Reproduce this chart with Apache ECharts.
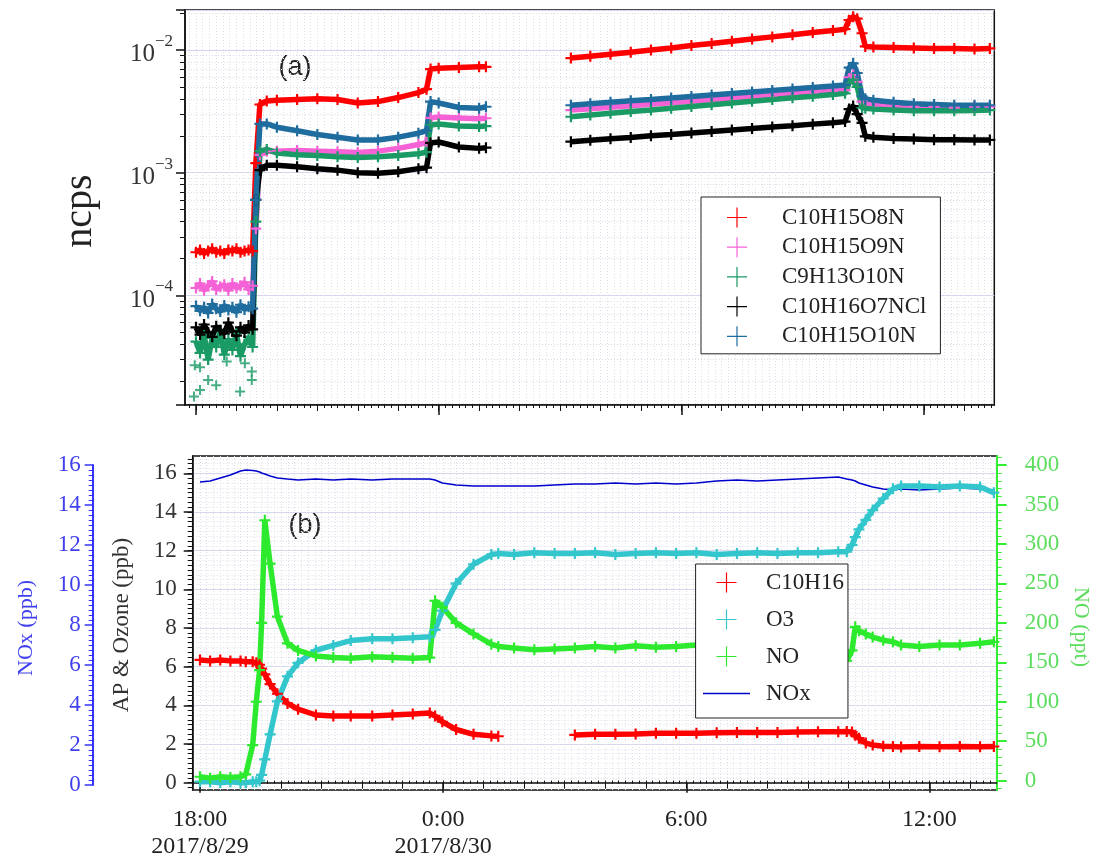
<!DOCTYPE html>
<html>
<head>
<meta charset="utf-8">
<title>ncps and AP / ozone / NO / NOx time series</title>
<script src="https://cdn.jsdelivr.net/npm/echarts@6.0.0/dist/echarts.min.js"></script>
<style>
  html, body { margin: 0; padding: 0; background: #fff; }
  #chart { width: 1097px; height: 861px; }
</style>
</head>
<body>
<div id="chart"></div>
<script>
// time in hours counted from 2017/8/29 0:00 (24 = 0:00 on 8/30)
const T_TOP = [18.0, 18.1, 18.2, 18.3, 18.4, 18.5, 18.6, 18.7, 18.8, 18.9,
  19.0, 19.1, 19.2, 19.3, 19.4, 19.48, 19.58, 19.75, 20.0, 20.5,
  21.0, 21.5, 22.0, 22.5, 23.0, 23.5, 23.7, 23.8, 24.0, 24.5,
  25.0, 25.17, 26.2, 27.27, 27.75, 28.25, 28.75, 29.25, 29.75, 30.25,
  30.75, 31.25, 31.75, 32.25, 32.75, 33.25, 33.75, 34.05, 34.15, 34.25,
  34.35, 34.47, 34.55, 34.75, 35.25, 35.75, 36.25, 36.75, 37.25, 37.63];

const C10H15O8N = [2.25e-4, 2.35e-4, 2.2e-4, 2.3e-4, 2.4e-4, 2.25e-4, 2.3e-4, 2.2e-4, 2.35e-4, 2.3e-4,
  2.4e-4, 2.25e-4, 2.3e-4, 2.35e-4, 2.3e-4, 1.2e-3, 3.6e-3, 3.85e-3, 3.9e-3, 3.95e-3,
  4.0e-3, 3.95e-3, 3.7e-3, 3.8e-3, 4.1e-3, 4.5e-3, 4.8e-3, 7.0e-3, 7.1e-3, 7.2e-3,
  7.3e-3, 7.3e-3, null, 8.6e-3, 8.9e-3, 9.25e-3, 9.6e-3, 1.0e-2, 1.04e-2, 1.09e-2,
  1.13e-2, 1.18e-2, 1.23e-2, 1.28e-2, 1.33e-2, 1.39e-2, 1.44e-2, 1.48e-2, 1.75e-2, 1.87e-2,
  1.8e-2, 1.37e-2, 1.07e-2, 1.06e-2, 1.05e-2, 1.04e-2, 1.03e-2, 1.03e-2, 1.02e-2, 1.03e-2];

const C10H15O9N = [1.15e-4, 1.25e-4, 1.1e-4, 1.2e-4, 1.3e-4, 1.12e-4, 1.18e-4, 1.22e-4, 1.1e-4, 1.25e-4,
  1.15e-4, 1.2e-4, 1.28e-4, 1.12e-4, 1.2e-4, 3.5e-4, 1.4e-3, 1.5e-3, 1.5e-3, 1.52e-3,
  1.5e-3, 1.48e-3, 1.46e-3, 1.5e-3, 1.58e-3, 1.7e-3, 1.76e-3, 2.8e-3, 2.85e-3, 2.8e-3,
  2.75e-3, 2.78e-3, null, 3.24e-3, 3.33e-3, 3.42e-3, 3.52e-3, 3.62e-3, 3.72e-3, 3.83e-3,
  3.93e-3, 4.04e-3, 4.15e-3, 4.27e-3, 4.39e-3, 4.51e-3, 4.64e-3, 4.72e-3, 6.0e-3, 6.25e-3,
  5.5e-3, 3.8e-3, 3.7e-3, 3.6e-3, 3.5e-3, 3.45e-3, 3.45e-3, 3.4e-3, 3.45e-3, 3.45e-3];

const C9H13O10N = [4.2e-5, 3.4e-5, 4.8e-5, 3.0e-5, 4.5e-5, 3.8e-5, 5.2e-5, 3.3e-5, 4.4e-5, 3.6e-5,
  4.9e-5, 3.2e-5, 4.0e-5, 4.6e-5, 3.8e-5, 4.0e-4, 1.5e-3, 1.55e-3, 1.45e-3, 1.4e-3,
  1.38e-3, 1.35e-3, 1.33e-3, 1.35e-3, 1.38e-3, 1.43e-3, 1.47e-3, 2.45e-3, 2.5e-3, 2.4e-3,
  2.38e-3, 2.4e-3, null, 2.86e-3, 2.95e-3, 3.05e-3, 3.15e-3, 3.25e-3, 3.36e-3, 3.47e-3,
  3.58e-3, 3.7e-3, 3.82e-3, 3.95e-3, 4.08e-3, 4.21e-3, 4.35e-3, 4.44e-3, 5.4e-3, 5.7e-3,
  5.0e-3, 3.4e-3, 3.35e-3, 3.3e-3, 3.25e-3, 3.2e-3, 3.2e-3, 3.2e-3, 3.22e-3, 3.24e-3];

// scattered low C9H13O10N points before 19:30
const C9_LOW_T = [17.97, 18.1, 18.3, 18.1, 17.95, 18.5, 18.76, 19.09, 19.21, 19.38, 19.38];
const C9_LOW_V = [2.7e-5, 2.6e-5, 2.05e-5, 1.7e-5, 1.5e-5, 1.85e-5, 2.9e-5, 1.65e-5, 2.8e-5, 2.05e-5, 2.4e-5];

const C10H16O7NCl = [5.5e-5, 4.8e-5, 5.8e-5, 5.0e-5, 4.6e-5, 5.6e-5, 5.2e-5, 4.9e-5, 6.0e-5, 5.1e-5,
  4.7e-5, 5.5e-5, 5.0e-5, 5.7e-5, 5.3e-5, 6.0e-4, 1.05e-3, 1.15e-3, 1.15e-3, 1.12e-3,
  1.08e-3, 1.05e-3, 1.0e-3, 0.99e-3, 1.02e-3, 1.08e-3, 1.1e-3, 1.75e-3, 1.78e-3, 1.62e-3,
  1.58e-3, 1.6e-3, null, 1.79e-3, 1.84e-3, 1.89e-3, 1.94e-3, 2.0e-3, 2.05e-3, 2.11e-3,
  2.17e-3, 2.23e-3, 2.29e-3, 2.36e-3, 2.42e-3, 2.49e-3, 2.56e-3, 2.61e-3, 3.3e-3, 3.5e-3,
  3.0e-3, 2.55e-3, 1.98e-3, 1.95e-3, 1.9e-3, 1.88e-3, 1.86e-3, 1.86e-3, 1.85e-3, 1.85e-3];

const C10H15O10N = [8.2e-5, 7.5e-5, 8.0e-5, 7.2e-5, 8.5e-5, 7.8e-5, 7.4e-5, 8.3e-5, 7.6e-5, 8.0e-5,
  7.3e-5, 8.4e-5, 7.7e-5, 8.1e-5, 7.8e-5, 6.0e-4, 2.5e-3, 2.5e-3, 2.35e-3, 2.2e-3,
  2.05e-3, 1.95e-3, 1.85e-3, 1.85e-3, 1.95e-3, 2.1e-3, 2.2e-3, 3.8e-3, 3.7e-3, 3.4e-3,
  3.35e-3, 3.45e-3, null, 3.55e-3, 3.65e-3, 3.75e-3, 3.86e-3, 3.96e-3, 4.07e-3, 4.19e-3,
  4.31e-3, 4.43e-3, 4.56e-3, 4.69e-3, 4.82e-3, 4.95e-3, 5.09e-3, 5.2e-3, 7.2e-3, 7.8e-3,
  6.5e-3, 4.2e-3, 4.0e-3, 3.9e-3, 3.75e-3, 3.65e-3, 3.6e-3, 3.55e-3, 3.55e-3, 3.55e-3];

const T_BOT = [18.0, 18.25, 18.5, 18.75, 19.0, 19.13, 19.3, 19.39, 19.47, 19.52,
  19.6, 19.73, 19.91, 20.16, 20.42, 20.86, 21.29, 21.72, 22.25, 22.75,
  23.25, 23.67, 23.8, 23.98, 24.32, 24.75, 25.19, 25.36, 25.75, 26.25,
  26.75, 27.25, 27.75, 28.25, 28.75, 29.25, 29.75, 30.25, 30.75, 31.25,
  31.75, 32.25, 32.75, 33.25, 33.75, 33.96, 34.09, 34.17, 34.26, 34.43,
  34.6, 34.86, 35.1, 35.3, 35.75, 36.25, 36.75, 37.25, 37.59];

// ppb, left axis
const C10H16 = [6.35, 6.3, 6.35, 6.3, 6.3, 6.25, 6.25, 6.2, 6.1, 5.9,
  5.6, 5.1, 4.6, 4.1, 3.8, 3.5, 3.45, 3.45, 3.45, 3.5,
  3.55, 3.6, 3.45, 3.15, 2.75, 2.5, 2.42, 2.4, null, null,
  null, 2.47, 2.5, 2.5, 2.52, 2.55, 2.55, 2.56, 2.58, 2.6,
  2.6, 2.6, 2.62, 2.63, 2.64, 2.65, 2.62, 2.45, 2.3, 2.05,
  1.95, 1.88, 1.87, 1.85, 1.87, 1.86, 1.87, 1.86, 1.87];

const O3 = [0.05, 0.05, 0.0, 0.05, 0.0, 0.0, 0.05, 0.05, 0.1, 0.4,
  1.2, 2.5, 4.2, 5.5, 6.2, 6.85, 7.1, 7.35, 7.45, 7.45,
  7.5, 7.55, 7.9, 8.9, 10.3, 11.3, 11.8, 11.85, 11.8, 11.9,
  11.85, 11.85, 11.9, 11.8, 11.85, 11.9, 11.85, 11.9, 11.8, 11.85,
  11.9, 11.85, 11.9, 11.9, 11.95, 11.95, 12.3, 12.7, 13.1, 13.6,
  14.1, 14.7, 15.2, 15.35, 15.35, 15.3, 15.35, 15.3, 15.0];

// ppt, right axis
const NO = [5, 3, 5, 4, 5, 8, 45, 100, 140, 200,
  330, 275, 208, 174, 165, 158, 156, 155, 157, 156,
  155, 156, 228, 220, 200, 186, 173, 170, 168, 166,
  167, 168, 170, 168, 171, 169, 170, 172, 169, 171,
  170, 172, 170, 171, 168, 152, 165, 195, 190, 186,
  182, 178, 176, 172, 170, 172, 172, 174, 176];

// ppb, far left axis
const NOX = [15.15, 15.2, 15.35, 15.5, 15.7, 15.75, 15.72, 15.7, 15.65, 15.6,
  15.55, 15.45, 15.35, 15.3, 15.25, 15.3, 15.25, 15.3, 15.25, 15.3,
  15.3, 15.3, 15.25, 15.1, 15.0, 14.95, 14.95, 14.95, 14.95, 14.95,
  15.0, 15.05, 15.05, 15.1, 15.05, 15.1, 15.05, 15.1, 15.2, 15.25,
  15.2, 15.25, 15.3, 15.35, 15.4, 15.3, 15.25, 15.2, 15.1, 15.0,
  14.9, 14.8, 14.75, 14.8, 14.75, 14.8, 14.85, 14.8, 14.75];

const X_TICKS = [18, 24, 30, 36];
const X_LABELS = ['18:00\n2017/8/29', '0:00\n2017/8/30', '6:00', '12:00'];
const AP_TICKS = [0, 2, 4, 6, 8, 10, 12, 14, 16];
const NO_TICKS = [0, 50, 100, 150, 200, 250, 300, 350, 400];

const TOP_NAMES = ['C10H15O8N', 'C10H15O9N', 'C9H13O10N', 'C10H16O7NCl', 'C10H15O10N'];
const TOP_COLORS = ['#ff0000', '#f562d6', '#1a9a64', '#000000', '#1f6c9e'];

// axis extents
const TOP_X = [17.728, 37.74];
const BOT_X = [17.82, 37.66];
const TOP_Y = [1.28e-5, 0.0212];
const AP_Y = [-0.38, 16.9];
const NO_Y = [-11.8, 411.4];

const SERIF = 'Liberation Serif';
const PLUS = 'path://M4,0H6V4H10V6H6V10H4V6H0V4H4Z';
const PLUS_THIN = 'path://M9.4,0H10.6V9.4H20V10.6H10.6V20H9.4V10.6H0V9.4H9.4Z';
const LINE_ICON = 'path://M0,0H47V1.6H0Z';

// tick positions for the extra tick rows
const inRange = (arr, r) => arr.filter(v => v >= r[0] && v <= r[1]);
const HOURS = [];
for (let h = 17; h <= 38; h++) HOURS.push(h);
const MIN10 = [];
for (let m = 17 * 60; m <= 38 * 60; m += 10) MIN10.push(m / 60);
const AP_MINOR = [];
for (let i = -2; i <= 68; i++) AP_MINOR.push(i * 0.25);
const NO_MINOR = [];
for (let i = -2; i <= 42; i++) NO_MINOR.push(i * 10);

const pairs = (t, v) => t.map((x, i) => [x, v[i] == null ? '-' : v[i]]);

function tickRow(gridIndex, range, values, len, split) {
  return {
    type: 'value', gridIndex: gridIndex, min: range[0], max: range[1], position: 'bottom',
    axisLine: { show: false },
    axisLabel: { show: false },
    axisTick: { show: true, length: len, customValues: inRange(values, range), lineStyle: { color: '#111', width: 1 } },
    splitLine: split ? { show: true, lineStyle: split } : { show: false }
  };
}

function yTickRow(gridIndex, range, values, len, position, color, split) {
  return {
    type: 'value', gridIndex: gridIndex, min: range[0], max: range[1], position: position,
    axisLine: { show: false },
    axisLabel: { show: false },
    axisTick: { show: true, length: len, customValues: inRange(values, range), lineStyle: { color: color, width: 1 } },
    splitLine: split ? { show: true, lineStyle: split } : { show: false }
  };
}

const dotHour = { color: '#c8c8dc', width: 1, type: [1, 2] };
const dotMin = { color: '#dfdfea', width: 1, type: [1, 2] };

const myChart = echarts.init(document.getElementById('chart'));

const topSeries = TOP_NAMES.map((name, i) => ({
  name: name,
  type: 'line',
  xAxisIndex: 0,
  yAxisIndex: 0,
  data: pairs(T_TOP, [C10H15O8N, C10H15O9N, C9H13O10N, C10H16O7NCl, C10H15O10N][i]),
  symbol: PLUS,
  symbolSize: 11,
  connectNulls: false,
  itemStyle: { color: TOP_COLORS[i] },
  lineStyle: { color: TOP_COLORS[i], width: 5.5 },
  silent: true
}));

topSeries.push({
  name: 'C9H13O10N',
  type: 'scatter',
  xAxisIndex: 0,
  yAxisIndex: 0,
  data: pairs(C9_LOW_T, C9_LOW_V),
  symbol: PLUS,
  symbolSize: 10,
  itemStyle: { color: TOP_COLORS[2] },
  silent: true
});

const option = {
  animation: false,
  backgroundColor: '#fff',
  textStyle: { fontFamily: SERIF },
  grid: [
    { left: 185, top: 10, right: 102.7, bottom: 456, show: true, borderColor: '#111', borderWidth: 1.5, backgroundColor: '#fff' },
    { left: 192.7, top: 456, right: 100.3, bottom: 71, show: true, borderColor: '#111', borderWidth: 1.5, backgroundColor: '#fff' },
    { left: 192.7, top: 465, right: 100.3, bottom: 76, show: false }
  ],
  xAxis: [
    {
      type: 'value', gridIndex: 0, min: TOP_X[0], max: TOP_X[1], position: 'bottom',
      axisLine: { show: true, lineStyle: { color: '#111', width: 1.5 } },
      axisTick: { show: true, length: 10, customValues: X_TICKS, lineStyle: { color: '#111', width: 1.5 } },
      axisLabel: { show: false },
      splitLine: { show: false }
    },
    tickRow(0, TOP_X, HOURS, 6, dotHour),
    tickRow(0, TOP_X, MIN10, 3, dotMin),
    {
      type: 'value', gridIndex: 1, min: BOT_X[0], max: BOT_X[1], position: 'bottom',
      axisLine: { show: true, lineStyle: { color: '#111', width: 1.5 } },
      axisTick: { show: true, length: 10, customValues: X_TICKS, lineStyle: { color: '#111', width: 1.5 } },
      axisLabel: {
        show: true, customValues: X_TICKS, margin: 16,
        fontFamily: SERIF, fontSize: 24, lineHeight: 27, color: '#222',
        formatter: v => X_LABELS[X_TICKS.indexOf(v)] || ''
      },
      splitLine: { show: false }
    },
    tickRow(1, BOT_X, HOURS, 6, dotHour),
    tickRow(1, BOT_X, MIN10, 3, dotMin),
    { type: 'value', gridIndex: 2, min: BOT_X[0], max: BOT_X[1], show: false }
  ],
  yAxis: [
    {
      type: 'log', logBase: 10, gridIndex: 0, min: TOP_Y[0], max: TOP_Y[1], position: 'left',
      axisLine: { show: true, lineStyle: { color: '#111', width: 1.5 } },
      axisTick: { show: true, length: 9, lineStyle: { color: '#111', width: 1.5 } },
      minorTick: { show: true, splitNumber: 9, length: 5, lineStyle: { color: '#111', width: 1 } },
      axisLabel: {
        show: true, margin: 12, showMinLabel: false, showMaxLabel: false,
        formatter: v => '{b|10}{s|−' + Math.round(-Math.log10(v)) + '}',
        rich: {
          b: { fontFamily: SERIF, fontSize: 25, color: '#333', lineHeight: 34, verticalAlign: 'bottom' },
          s: { fontFamily: SERIF, fontSize: 17, color: '#333', lineHeight: 34, verticalAlign: 'top' }
        }
      },
      splitLine: { show: true, lineStyle: { color: '#d4d4f0', width: 1 } },
      minorSplitLine: { show: true, lineStyle: { color: '#dcdce8', width: 1, type: [1, 2] } }
    },
    {
      type: 'value', gridIndex: 1, min: AP_Y[0], max: AP_Y[1], position: 'left',
      axisLine: { show: true, lineStyle: { color: '#111', width: 1.5 } },
      axisTick: { show: true, length: 9, customValues: AP_TICKS, lineStyle: { color: '#111', width: 1.5 } },
      axisLabel: { show: true, customValues: AP_TICKS, margin: 16, fontFamily: SERIF, fontSize: 23, color: '#333' },
      splitLine: { show: true, lineStyle: { color: '#d4d4f0', width: 1 } }
    },
    yTickRow(1, AP_Y, AP_MINOR, 5, 'left', '#111', dotMin),
    {
      type: 'value', gridIndex: 1, min: NO_Y[0], max: NO_Y[1], position: 'right',
      axisLine: { show: true, lineStyle: { color: '#33ee33', width: 2 } },
      axisTick: { show: true, length: 10, customValues: NO_TICKS, lineStyle: { color: '#33ee33', width: 2 } },
      axisLabel: { show: true, customValues: NO_TICKS, margin: 28, fontFamily: SERIF, fontSize: 23, color: '#5cdc5c' },
      splitLine: { show: false }
    },
    yTickRow(1, NO_Y, NO_MINOR, 5, 'right', '#33ee33', null),
    {
      type: 'value', gridIndex: 2, min: 0, max: 16, interval: 2, position: 'left', offset: 100,
      axisLine: { show: true, lineStyle: { color: '#3333ff', width: 2 } },
      axisTick: { show: true, length: 8, lineStyle: { color: '#3333ff', width: 1.5 } },
      minorTick: { show: true, splitNumber: 8, length: 4, lineStyle: { color: '#3333ff', width: 1 } },
      axisLabel: { show: true, margin: 12, fontFamily: SERIF, fontSize: 23, color: '#4040ee' },
      splitLine: { show: false }
    }
  ],
  legend: [
    {
      data: TOP_NAMES.map(n => ({ name: n, icon: PLUS_THIN })),
      orient: 'vertical', left: 701, top: 197,
      padding: [9, 14, 6, 26], itemWidth: 22, itemHeight: 20, itemGap: 6.7,
      borderColor: '#222', borderWidth: 1, backgroundColor: '#fff', borderRadius: 0,
      selectedMode: false,
      textStyle: { fontFamily: SERIF, fontSize: 23, lineHeight: 22, color: '#222', padding: [0, 0, 0, 29] }
    },
    {
      data: [
        { name: 'C10H16', icon: PLUS_THIN },
        { name: 'O3', icon: PLUS_THIN },
        { name: 'NO', icon: PLUS_THIN },
        { name: 'NOx', icon: LINE_ICON }
      ],
      orient: 'vertical', left: 695.6, top: 564,
      padding: [7, 4, 13, 7.4], itemWidth: 47, itemHeight: 20, itemGap: 14,
      borderColor: '#222', borderWidth: 1, backgroundColor: '#fff', borderRadius: 0,
      selectedMode: false,
      textStyle: { fontFamily: SERIF, fontSize: 23, lineHeight: 22, color: '#222', padding: [0, 0, 0, 11] }
    }
  ],
  graphic: [
    { type: 'text', x: 80, y: 211, rotation: Math.PI / 2, silent: true,
      style: { text: 'ncps', font: '40px "Liberation Serif"', fill: '#222', align: 'center', verticalAlign: 'middle', textAlign: 'center', textVerticalAlign: 'middle' } },
    { type: 'text', x: 295, y: 68, silent: true,
      style: { text: '(a)', font: '27px "Liberation Sans"', fill: '#222', align: 'center', verticalAlign: 'middle', textAlign: 'center', textVerticalAlign: 'middle' } },
    { type: 'text', x: 305, y: 526, silent: true,
      style: { text: '(b)', font: '27px "Liberation Sans"', fill: '#222', align: 'center', verticalAlign: 'middle', textAlign: 'center', textVerticalAlign: 'middle' } },
    { type: 'text', x: 122, y: 625, rotation: Math.PI / 2, silent: true,
      style: { text: 'AP & Ozone (ppb)', font: '23px "Liberation Serif"', fill: '#333', align: 'center', verticalAlign: 'middle', textAlign: 'center', textVerticalAlign: 'middle' } },
    { type: 'text', x: 26, y: 628, rotation: Math.PI / 2, silent: true,
      style: { text: 'NOx (ppb)', font: '22px "Liberation Serif"', fill: '#4040ee', align: 'center', verticalAlign: 'middle', textAlign: 'center', textVerticalAlign: 'middle' } },
    { type: 'text', x: 1081, y: 627, rotation: -Math.PI / 2, silent: true,
      style: { text: 'NO (ppt)', font: '22px "Liberation Serif"', fill: '#5cdc5c', align: 'center', verticalAlign: 'middle', textAlign: 'center', textVerticalAlign: 'middle' } }
  ],
  series: topSeries.concat([
    {
      name: 'NOx', type: 'line', xAxisIndex: 6, yAxisIndex: 5,
      data: pairs(T_BOT, NOX), symbol: 'none',
      itemStyle: { color: '#0000cc' }, lineStyle: { color: '#0000cc', width: 1.5 }, silent: true
    },
    {
      name: 'C10H16', type: 'line', xAxisIndex: 3, yAxisIndex: 1,
      data: pairs(T_BOT, C10H16), symbol: PLUS, symbolSize: 11, connectNulls: false,
      itemStyle: { color: '#ff0000' }, lineStyle: { color: '#ff0000', width: 5.5 }, silent: true
    },
    {
      name: 'O3', type: 'line', xAxisIndex: 3, yAxisIndex: 1,
      data: pairs(T_BOT, O3), symbol: PLUS, symbolSize: 11,
      itemStyle: { color: '#33c6cc' }, lineStyle: { color: '#33c6cc', width: 5.5 }, silent: true
    },
    {
      name: 'NO', type: 'line', xAxisIndex: 3, yAxisIndex: 3,
      data: pairs(T_BOT, NO), symbol: PLUS, symbolSize: 11,
      itemStyle: { color: '#2eea2e' }, lineStyle: { color: '#2eea2e', width: 5.5 }, silent: true
    }
  ])
};

myChart.setOption(option);
</script>
</body>
</html>
